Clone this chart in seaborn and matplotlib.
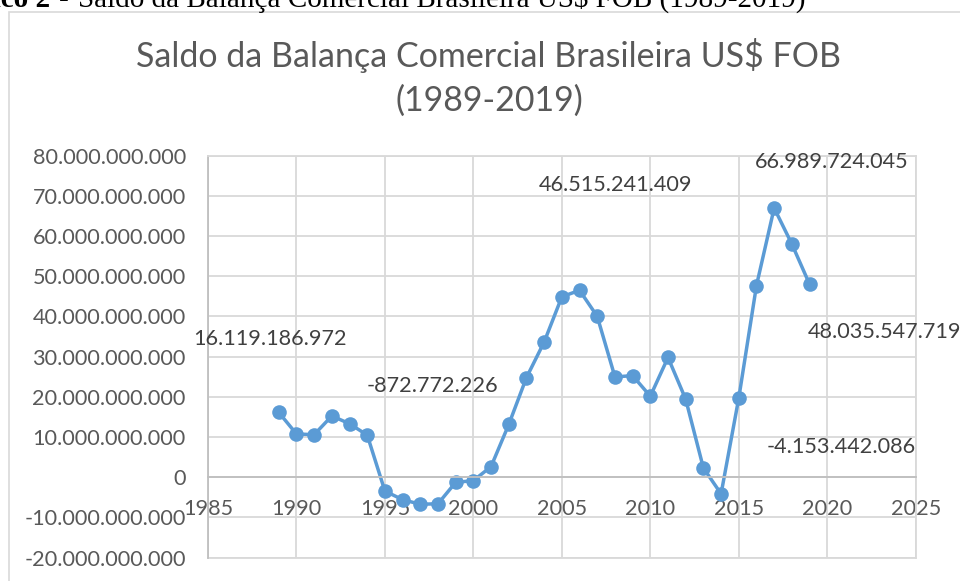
import matplotlib
matplotlib.use('Agg')
import matplotlib.pyplot as plt
import seaborn as sns
import pandas as pd
from matplotlib.patches import Rectangle
from matplotlib.ticker import FuncFormatter

# Saldo anual da balança comercial (US$ FOB)
anos = list(range(1989, 2020))
saldo = [16119186972, 10750000000, 10580000000, 15240000000, 13300000000,
         10470000000, -3470000000, -5600000000, -6750000000, -6620000000,
         -1280000000, -872772226, 2650000000, 13120000000, 24790000000,
         33640000000, 44900000000, 46515241409, 40030000000, 24960000000,
         25270000000, 20150000000, 29790000000, 19400000000, 2290000000,
         -4153442086, 19690000000, 47680000000, 66989724045, 58040000000,
         48035547719]
anos_rotulo = [1989, 2000, 2006, 2014, 2017, 2019]

x_ticks = list(range(1985, 2030, 5))
y_ticks = [v * 1e9 for v in range(-20, 90, 10)]

titulo_l1 = 'Saldo da Balança Comercial Brasileira US$ FOB'
titulo_l2 = '(1989-2019)'
legenda_num = 'Gráfico 2'
legenda_doc = 'Saldo da Balança Comercial Brasileira US$ FOB (1989-2019)'

# posição dos rótulos de dados (em pixels da figura, centro do texto)
pos_rotulo = {1989: (270, 339), 2000: (432, 386), 2006: (616, 185),
              2014: (841, 447), 2017: (832, 162), 2019: (885, 332)}

W, H = 960, 581
AZUL = '#5B9BD5'
CINZA = '#595959'


def fmt_br(v, pos=None):
    return f"{int(round(v)):,}".replace(',', '.')


sns.set_theme(style='white')
plt.rcParams['font.family'] = ['Lato', 'DejaVu Sans']

df = pd.DataFrame({'ano': anos, 'saldo': saldo})

fig = plt.figure(figsize=(W / 100, H / 100), dpi=100)

# moldura do gráfico
fig.patches.append(Rectangle((9 / W, -0.1), 1.2, 1 - 11.5 / H + 0.1,
                             transform=fig.transFigure, fill=False,
                             edgecolor='#d9d9d9', linewidth=1.2))

# legenda do documento (cortada no topo)
fig.text(50 / W, 1 - 7 / H, legenda_num, ha='right', va='baseline',
         fontsize=21, fontweight='bold', family='Liberation Serif', color='black')
fig.text(64 / W, 1 - 7 / H, '-', ha='center', va='baseline',
         fontsize=21, family='Liberation Serif', color='black')
fig.text(78 / W, 1 - 7 / H, legenda_doc, ha='left', va='baseline',
         fontsize=21, family='Liberation Serif', color='black')

fig.text(489 / W, 1 - 67 / H, titulo_l1, ha='center', va='baseline',
         fontsize=24.5, color=CINZA)
fig.text(489 / W, 1 - 111 / H, titulo_l2, ha='center', va='baseline',
         fontsize=24.5, color=CINZA)

ax = fig.add_axes([208 / W, 1 - 557.5 / H, (915.7 - 208) / W, (557.5 - 155.8) / H])
sns.lineplot(data=df, x='ano', y='saldo', ax=ax, color=AZUL, linewidth=2.5,
             marker='o', markersize=10.5, markeredgecolor=AZUL, markeredgewidth=0)

ax.set_xlim(1985, 2025)
ax.set_ylim(-20e9, 80e9)
ax.set_xticks(x_ticks)
ax.set_yticks(y_ticks)
ax.yaxis.set_major_formatter(FuncFormatter(fmt_br))
ax.set_xlabel('')
ax.set_ylabel('')
ax.grid(True, color='#d9d9d9', linewidth=1.3)
ax.set_axisbelow(True)
ax.axhline(-20e9, color='#d9d9d9', linewidth=1.3, clip_on=False, zorder=0)

ax.spines['bottom'].set_position(('data', 0))
ax.spines['bottom'].set_color('#bfbfbf')
ax.spines['left'].set_color('#bfbfbf')
ax.spines['top'].set_color('#d9d9d9')
ax.spines['right'].set_color('#d9d9d9')
for s in ax.spines.values():
    s.set_linewidth(1.3)

ax.tick_params(axis='x', length=0, pad=16, labelsize=15.6, labelcolor=CINZA)
ax.tick_params(axis='y', length=0, pad=16, labelsize=15.6, labelcolor=CINZA)

for ano in anos_rotulo:
    v = saldo[anos.index(ano)]
    px, py = pos_rotulo[ano]
    fig.text(px / W, 1 - py / H, fmt_br(v), ha='center', va='center',
             fontsize=15.6, color='#404040')

fig.savefig('out.png', dpi=100)
